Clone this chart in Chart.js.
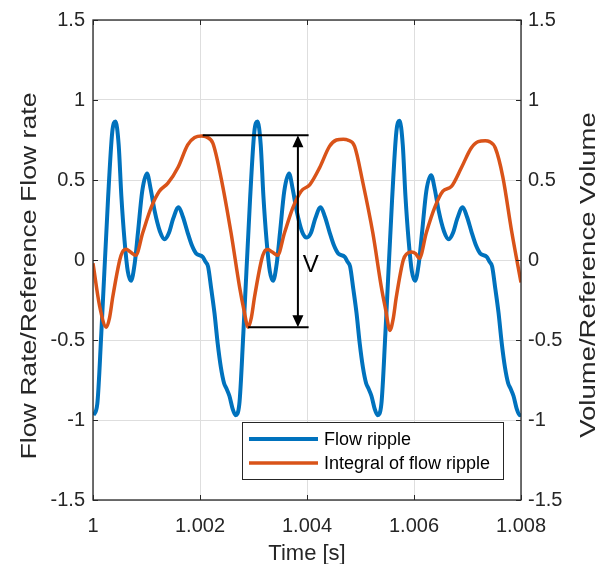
<!DOCTYPE html>
<html>
<head>
<meta charset="utf-8">
<script src="https://cdn.jsdelivr.net/npm/chart.js@4"></script>
<style>
  html, body { margin: 0; padding: 0; background: #fff; }
  #wrap { width: 599px; height: 564px; position: relative; }
</style>
</head>
<body>
<div id="wrap"><canvas id="rippleChart"></canvas></div>
<script>
// time [s] and normalised flow ripple (blue)
var flowTime = [
  1.00001, 1.00008, 1.000155, 1.00028, 1.00036, 1.00042, 1.00048, 1.00053, 1.00059, 1.00065,
  1.00071, 1.00078, 1.00084, 1.00092, 1.00101, 1.00108, 1.00115, 1.00125, 1.00134, 1.00142,
  1.0015, 1.0016, 1.00168, 1.00177, 1.00185, 1.00193, 1.00205, 1.0021, 1.00215, 1.00221,
  1.00227, 1.00233, 1.00239, 1.00245, 1.00249, 1.00255, 1.00261,
  1.002665, 1.002735, 1.00281, 1.002935, 1.003015, 1.003075, 1.003135, 1.003185, 1.003245, 1.003305,
  1.003365, 1.003435, 1.003495, 1.003575, 1.003665, 1.003735, 1.003805, 1.003905, 1.003995, 1.004075,
  1.004155, 1.004255, 1.004335, 1.004425, 1.004505, 1.004585, 1.004705, 1.004755, 1.004805, 1.004865,
  1.004925, 1.004985, 1.005045, 1.005105, 1.005145, 1.005205, 1.005265,
  1.00532, 1.00539, 1.005465, 1.00559, 1.00567, 1.00573, 1.00579, 1.00584, 1.0059, 1.00596,
  1.00602, 1.00609, 1.00615, 1.00623, 1.00632, 1.00639, 1.00646, 1.00656, 1.00665, 1.00673,
  1.00681, 1.00691, 1.00699, 1.00708, 1.00716, 1.00724, 1.00736, 1.00741, 1.00746, 1.00752,
  1.00758, 1.00764, 1.0077, 1.00776, 1.0078, 1.00786, 1.00792, 1.007975, 1.008
];
var flowRipple = [
  -0.97, -0.90, -0.46, 0.375, 0.80, 0.865, 0.72, 0.40, 0.12, -0.07,
  -0.13, -0.02, 0.17, 0.43, 0.54, 0.44, 0.31, 0.18, 0.13, 0.17,
  0.26, 0.33, 0.27, 0.17, 0.09, 0.04, 0.02, -0.01, -0.04, -0.18,
  -0.33, -0.52, -0.67, -0.77, -0.80, -0.85, -0.93,
  -0.97, -0.90, -0.46, 0.375, 0.80, 0.865, 0.72, 0.40, 0.12, -0.07,
  -0.13, -0.02, 0.17, 0.43, 0.54, 0.44, 0.31, 0.18, 0.14, 0.17,
  0.26, 0.33, 0.27, 0.17, 0.09, 0.04, 0.02, -0.01, -0.04, -0.18,
  -0.33, -0.52, -0.67, -0.77, -0.80, -0.85, -0.93,
  -0.97, -0.90, -0.46, 0.375, 0.80, 0.87, 0.72, 0.40, 0.12, -0.07,
  -0.13, -0.02, 0.17, 0.43, 0.53, 0.44, 0.31, 0.18, 0.13, 0.17,
  0.26, 0.33, 0.27, 0.17, 0.09, 0.04, 0.02, -0.01, -0.04, -0.18,
  -0.33, -0.52, -0.67, -0.77, -0.80, -0.85, -0.93, -0.97, -0.96
];

// time [s] and integral of flow ripple (orange)
var volTime = [
  1.0, 1.000125, 1.00025, 1.00031, 1.00037, 1.0005, 1.00055, 1.00062, 1.0007, 1.0008,
  1.00093, 1.00109, 1.00124, 1.0014, 1.00159, 1.00177, 1.0019, 1.00203, 1.00211, 1.00224,
  1.00239, 1.00258, 1.00274, 1.00282,
  1.0029, 1.00296, 1.00302, 1.00315, 1.0032, 1.00327, 1.00335, 1.00345, 1.00358, 1.00374,
  1.00389, 1.00405, 1.00424, 1.00442, 1.00455, 1.00468, 1.00476, 1.00489, 1.00504, 1.00523,
  1.00539, 1.00547,
  1.00555, 1.00561, 1.00567, 1.0058, 1.00587, 1.00595, 1.00603, 1.0061, 1.00623, 1.00639,
  1.00654, 1.0067, 1.00689, 1.00707, 1.0072, 1.00733, 1.00741, 1.00752, 1.00766, 1.00783,
  1.008
];
var volIntegral = [
  -0.02, -0.29, -0.42, -0.36, -0.23, 0.0, 0.05, 0.067, 0.05, 0.03,
  0.17, 0.33, 0.43, 0.48, 0.58, 0.72, 0.765, 0.775, 0.77, 0.73,
  0.52, 0.17, -0.17, -0.31,
  -0.42, -0.36, -0.23, 0.0, 0.05, 0.065, 0.05, 0.03, 0.17, 0.33,
  0.43, 0.47, 0.58, 0.71, 0.75, 0.755, 0.75, 0.71, 0.49, 0.17,
  -0.17, -0.31,
  -0.44, -0.37, -0.23, 0.0, 0.04, 0.05, 0.04, 0.01, 0.17, 0.33,
  0.43, 0.46, 0.58, 0.70, 0.74, 0.745, 0.74, 0.70, 0.52, 0.17,
  -0.14
];

// axis ticks
var xTicks = [1, 1.002, 1.004, 1.006, 1.008];
var yTicks = [-1.5, -1, -0.5, 0, 0.5, 1, 1.5];

// "V" marker: peak-to-peak volume of the integral curve
var vTop = 0.78;
var vBottom = -0.42;
var vTopFrom = 1.00205;
var vBottomFrom = 1.0029;
var vLineTo = 1.00403;
var vArrowX = 1.00383;
var vLabelPos = [1.00407, -0.075];

var seriesNames = ['Flow ripple', 'Integral of flow ripple'];

var FONT = '"Liberation Sans", Arial, sans-serif';
var AXIS = '#262626';
var BLUE = '#0072BD';
var ORANGE = '#D95319';

function pairs(xs, ys) {
  return xs.map(function (t, i) { return { x: t, y: ys[i] }; });
}

var decor = {
  id: 'decor',
  afterDatasetsDraw: function (chart) {
    var ctx = chart.ctx, a = chart.chartArea;
    var sx = chart.scales.x, sy = chart.scales.y;
    ctx.save();

    // frame
    ctx.strokeStyle = AXIS;
    ctx.lineWidth = 1.3;
    ctx.strokeRect(a.left, a.top, a.right - a.left, a.bottom - a.top);

    // inward tick marks
    ctx.lineWidth = 1;
    ctx.beginPath();
    xTicks.forEach(function (v) {
      var px = Math.round(sx.getPixelForValue(v)) + 0.5;
      ctx.moveTo(px, a.bottom); ctx.lineTo(px, a.bottom - 5);
      ctx.moveTo(px, a.top); ctx.lineTo(px, a.top + 5);
    });
    yTicks.forEach(function (v) {
      var py = Math.round(sy.getPixelForValue(v)) + 0.5;
      ctx.moveTo(a.left, py); ctx.lineTo(a.left + 5, py);
      ctx.moveTo(a.right, py); ctx.lineTo(a.right - 5, py);
    });
    ctx.stroke();

    // V annotation
    var yT = sy.getPixelForValue(vTop), yB = sy.getPixelForValue(vBottom);
    var xA = sx.getPixelForValue(vArrowX);
    ctx.strokeStyle = '#000';
    ctx.fillStyle = '#000';
    ctx.lineWidth = 2;
    ctx.beginPath();
    ctx.moveTo(sx.getPixelForValue(vTopFrom), yT); ctx.lineTo(sx.getPixelForValue(vLineTo), yT);
    ctx.moveTo(sx.getPixelForValue(vBottomFrom), yB); ctx.lineTo(sx.getPixelForValue(vLineTo), yB);
    ctx.moveTo(xA, yT + 10); ctx.lineTo(xA, yB - 10);
    ctx.stroke();
    ctx.beginPath();
    ctx.moveTo(xA, yT); ctx.lineTo(xA - 5.5, yT + 12); ctx.lineTo(xA + 5.5, yT + 12); ctx.closePath();
    ctx.moveTo(xA, yB); ctx.lineTo(xA - 5.5, yB - 12); ctx.lineTo(xA + 5.5, yB - 12); ctx.closePath();
    ctx.fill();
    ctx.font = '24px ' + FONT;
    ctx.textAlign = 'center';
    ctx.textBaseline = 'alphabetic';
    ctx.fillText('V', sx.getPixelForValue(vLabelPos[0]), sy.getPixelForValue(vLabelPos[1]));

    // legend box (bottom right inside axes)
    var lw = 261, lh = 57;
    var lx = a.right - 279, ly = a.bottom - 78;
    ctx.fillStyle = '#fff';
    ctx.fillRect(lx, ly, lw, lh);
    ctx.strokeStyle = AXIS;
    ctx.lineWidth = 1;
    ctx.strokeRect(lx + 0.5, ly + 0.5, lw, lh);
    [BLUE, ORANGE].forEach(function (c, i) {
      var yy = ly + 17 + i * 24;
      ctx.strokeStyle = c;
      ctx.lineWidth = i === 0 ? 4 : 3.5;
      ctx.beginPath();
      ctx.moveTo(lx + 7, yy); ctx.lineTo(lx + 76, yy);
      ctx.stroke();
      ctx.fillStyle = '#000';
      ctx.font = '18px ' + FONT;
      ctx.textAlign = 'left';
      ctx.textBaseline = 'middle';
      ctx.fillText(seriesNames[i], lx + 82, yy + 1);
    });

    // axis titles
    ctx.fillStyle = AXIS;
    ctx.font = '22px ' + FONT;
    ctx.textAlign = 'center';
    ctx.textBaseline = 'alphabetic';
    ctx.fillText('Time [s]', (a.left + a.right) / 2, 560);

    ctx.save();
    ctx.translate(36, 276);
    ctx.rotate(-Math.PI / 2);
    ctx.scale(1.21, 1);
    ctx.fillText('Flow Rate/Reference Flow rate', 0, 0);
    ctx.restore();

    ctx.save();
    ctx.translate(595, 275);
    ctx.rotate(-Math.PI / 2);
    ctx.scale(1.25, 1);
    ctx.fillText('Volume/Reference Volume', 0, 0);
    ctx.restore();

    ctx.restore();
  }
};

function yLabel(v) { return String(Math.round(v * 10) / 10); }

var ctx = document.getElementById('rippleChart').getContext('2d');
var rippleChart = new Chart(ctx, {
  type: 'line',
  data: {
    datasets: [{
      label: seriesNames[0],
      data: pairs(flowTime, flowRipple),
      borderColor: BLUE,
      borderWidth: 4,
      pointRadius: 0,
      cubicInterpolationMode: 'monotone',
      borderJoinStyle: 'round',
      yAxisID: 'y',
      order: 2
    }, {
      label: seriesNames[1],
      data: pairs(volTime, volIntegral),
      borderColor: ORANGE,
      borderWidth: 3.5,
      pointRadius: 0,
      cubicInterpolationMode: 'monotone',
      borderJoinStyle: 'round',
      yAxisID: 'y2',
      order: 1
    }]
  },
  options: {
    responsive: true,
    maintainAspectRatio: false,
    animation: false,
    layout: { padding: { top: 20 } },
    plugins: { legend: { display: false }, tooltip: { enabled: false } },
    scales: {
      x: {
        type: 'linear',
        min: 1, max: 1.008,
        afterFit: function (s) { s.height = 64; },
        afterBuildTicks: function (s) { s.ticks = xTicks.map(function (v) { return { value: v }; }); },
        ticks: {
          padding: 14,
          color: AXIS,
          font: { family: FONT, size: 20 },
          maxRotation: 0,
          callback: function (v) { return String(Number(Number(v).toFixed(3))); }
        },
        grid: { color: '#dedede', lineWidth: 1, drawTicks: false },
        border: { display: false }
      },
      y: {
        position: 'left',
        min: -1.5, max: 1.5,
        afterFit: function (s) { s.width = 93; },
        afterBuildTicks: function (s) { s.ticks = yTicks.map(function (v) { return { value: v }; }); },
        ticks: { padding: 8, color: AXIS, font: { family: FONT, size: 20 }, callback: yLabel },
        grid: { color: '#dedede', lineWidth: 1, drawTicks: false },
        border: { display: false }
      },
      y2: {
        position: 'right',
        min: -1.5, max: 1.5,
        afterFit: function (s) { s.width = 78; },
        afterBuildTicks: function (s) { s.ticks = yTicks.map(function (v) { return { value: v }; }); },
        ticks: { padding: 7, color: AXIS, font: { family: FONT, size: 20 }, callback: yLabel },
        grid: { drawOnChartArea: false, drawTicks: false },
        border: { display: false }
      }
    }
  },
  plugins: [decor]
});
</script>
</body>
</html>
